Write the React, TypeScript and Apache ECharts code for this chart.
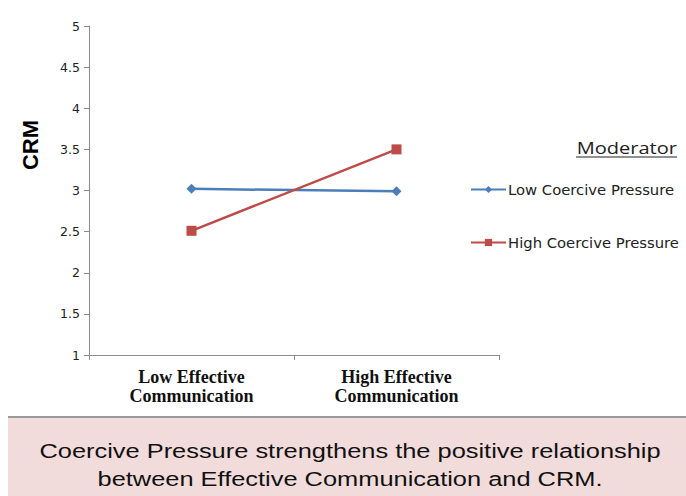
import React, { useEffect, useRef } from "react";
import * as echarts from "echarts";

const categories = ["Low Effective\nCommunication", "High Effective\nCommunication"];
const lowCoercive = [3.02, 2.99];
const highCoercive = [2.51, 3.5];
const seriesNames = ["Low Coercive Pressure", "High Coercive Pressure"];
const yAxisTitle = "CRM";
const legendTitle = "Moderator";
const caption = "Coercive Pressure strengthens the positive relationship\nbetween Effective Communication and CRM.";

export default function App() {
  const ref = useRef<HTMLDivElement>(null);
  useEffect(() => {
    if (!ref.current) return;
    const chart = echarts.init(ref.current, null, { renderer: "svg" });
    chart.setOption({
      animation: false,
      backgroundColor: "#ffffff",
      grid: { left: 89, top: 26, right: 187, bottom: 141, containLabel: false },
      xAxis: {
        type: "category",
        data: categories,
        boundaryGap: true,
        axisLine: { lineStyle: { color: "#8c8c8c", width: 1 } },
        axisTick: { show: true, length: 5, lineStyle: { color: "#8c8c8c" } },
        axisLabel: {
          color: "#111",
          fontFamily: "Liberation Serif",
          fontWeight: "bold",
          fontSize: 18,
          lineHeight: 19,
          margin: 12,
        },
      },
      yAxis: {
        type: "value",
        min: 1,
        max: 5,
        interval: 0.5,
        splitLine: { show: false },
        axisLine: { show: true, lineStyle: { color: "#8c8c8c", width: 1 } },
        axisTick: { show: true, length: 5, lineStyle: { color: "#8c8c8c" } },
        axisLabel: { color: "#222", fontFamily: "DejaVu Sans", fontSize: 12.5, margin: 9 },
      },
      legend: {
        orient: "vertical",
        left: 465,
        top: 177,
        itemWidth: 35,
        itemHeight: 9,
        itemGap: 38,
        textStyle: { color: "#222", fontFamily: "DejaVu Sans", fontSize: 14.8, padding: [0, 0, 0, -3] },
        data: seriesNames,
      },
      series: [
        {
          name: seriesNames[0],
          type: "line",
          data: lowCoercive,
          symbol: "diamond",
          symbolSize: 10,
          color: "#4a7ebb",
          lineStyle: { width: 2.5, color: "#4a7ebb" },
        },
        {
          name: seriesNames[1],
          type: "line",
          data: highCoercive,
          symbol: "rect",
          symbolSize: 10,
          color: "#be4b48",
          lineStyle: { width: 2.5, color: "#be4b48" },
        },
      ],
      graphic: [
        {
          type: "text",
          x: 30,
          y: 145,
          rotation: Math.PI / 2,
          style: {
            text: yAxisTitle,
            fill: "#000",
            font: "bold 22px 'Liberation Sans'",
            textAlign: "center",
            textVerticalAlign: "middle",
          },
        },
        {
          type: "text",
          x: 677,
          y: 147,
          scaleX: 1.18,
          style: {
            text: legendTitle,
            fill: "#222",
            font: "17px 'Open Sans'",
            textAlign: "right",
            textVerticalAlign: "middle",
          },
        },
        {
          type: "line",
          shape: { x1: 576, y1: 157, x2: 677, y2: 157 },
          style: { stroke: "#222", lineWidth: 1 },
        },
        {
          type: "rect",
          shape: { x: 8, y: 417, width: 678, height: 79 },
          style: { fill: "#f2dcdb", stroke: "none" },
        },
        {
          type: "line",
          shape: { x1: 8, y1: 417, x2: 686, y2: 417 },
          style: { stroke: "#9a9a9a", lineWidth: 2 },
        },
        {
          type: "text",
          x: 350,
          y: 465,
          scaleX: 1.27,
          style: {
            text: caption,
            fill: "#111",
            font: "20px 'Liberation Sans'",
            lineHeight: 29,
            textAlign: "center",
            textVerticalAlign: "middle",
          },
        },
      ],
    });
    return () => chart.dispose();
  }, []);
  return (
    <div
      ref={ref}
      style={{ position: "fixed", left: 0, top: 0, width: 686, height: 496 }}
    />
  );
}
